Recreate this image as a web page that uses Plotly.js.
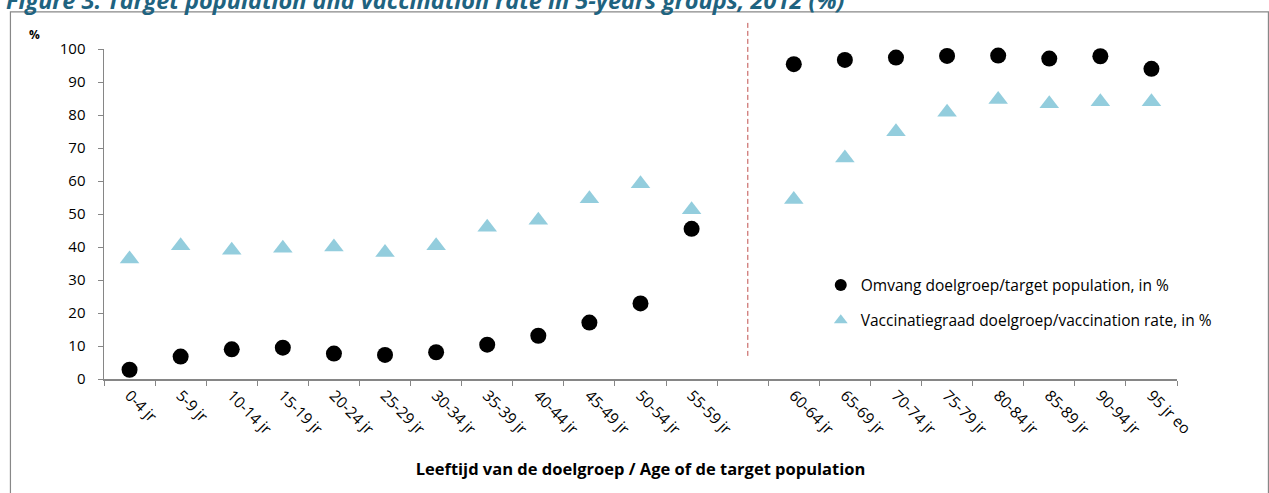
<!DOCTYPE html>
<html>
<head>
<meta charset="utf-8">
<script src="https://cdn.plot.ly/plotly-3.0.1.min.js"></script>
<style>
  html, body { margin: 0; padding: 0; background: #ffffff; }
  #chart { width: 1269px; height: 493px; }
</style>
</head>
<body>
<div id="chart"></div>
<script>
// ---- Data ----
const categories = ["0-4 jr", "5-9 jr", "10-14 jr", "15-19 jr", "20-24 jr", "25-29 jr",
  "30-34 jr", "35-39 jr", "40-44 jr", "45-49 jr", "50-54 jr", "55-59 jr", " ",
  "60-64 jr", "65-69 jr", "70-74 jr", "75-79 jr", "80-84 jr", "85-89 jr", "90-94 jr", "95 jr eo"];
const targetPopulation = [2.8, 6.8, 9.0, 9.5, 7.7, 7.3, 8.1, 10.4, 13.1, 17.1, 22.9, 45.5, null,
  95.4, 96.7, 97.4, 97.9, 98.0, 97.1, 97.8, 94.0];
const vaccinationRate = [36.4, 40.4, 39.0, 39.6, 40.0, 38.3, 40.4, 46.0, 48.1, 54.6, 59.2, 51.3, null,
  54.4, 67.0, 74.9, 80.8, 84.7, 83.4, 84.0, 84.0];
const seriesNames = ["Omvang doelgroep/target population, in %",
  "Vaccinatiegraad doelgroep/vaccination rate, in %"];
const yTickValues = [0, 10, 20, 30, 40, 50, 60, 70, 80, 90, 100];
const chartTitle = "Figure 3: Target population and vaccination rate in 5-years groups, 2012 (%)";
const xAxisTitle = "Leeftijd van de doelgroep / Age of de target population";
const yUnitLabel = "%";
const separatorCategoryIndex = 12.1;

const FONT = "Open Sans, Noto Sans, sans-serif";
const AXIS_GREY = "#868686";

const traces = [
  {
    type: "scatter", mode: "markers",
    x: categories, y: targetPopulation,
    name: seriesNames[0], legendgroup: "a",
    marker: { symbol: "circle", size: 16, color: "#000000", line: { width: 0 } },
    cliponaxis: false, hoverinfo: "x+y"
  },
  {
    type: "scatter", mode: "markers",
    x: categories, y: vaccinationRate,
    name: seriesNames[1], legendgroup: "b",
    marker: { symbol: "triangle-up", size: 17, color: "#93CDDD", line: { width: 0 } },
    cliponaxis: false, hoverinfo: "x+y"
  }
];

const layout = {
  width: 1269, height: 493,
  margin: { l: 104, r: 92, t: 49, b: 114, pad: 0 },
  paper_bgcolor: "#ffffff", plot_bgcolor: "#ffffff",
  font: { family: FONT, color: "#000000", size: 14 },
  showlegend: true,
  legend: {
    x: 0.668, xanchor: "left", y: 0.335, yanchor: "top",
    bgcolor: "rgba(0,0,0,0)", borderwidth: 0,
    font: { family: FONT, size: 15.5, color: "#000000" },
    itemsizing: "constant", traceorder: "grouped", tracegroupgap: 12
  },
  xaxis: {
    type: "category", categoryorder: "array", categoryarray: categories,
    range: [-0.5, categories.length - 0.5],
    showgrid: false, zeroline: false,
    showline: true, linecolor: AXIS_GREY, linewidth: 1.5,
    ticks: "outside", tickson: "boundaries", ticklen: 5, tickcolor: AXIS_GREY, tickwidth: 1,
    tickangle: 45,
    tickfont: { family: FONT, size: 15.5, color: "#000000" },
    title: { text: xAxisTitle, font: { family: FONT, size: 16.5, color: "#000000", weight: "bold" }, standoff: 25 },
    fixedrange: true
  },
  yaxis: {
    range: [0, 100], tickmode: "array", tickvals: yTickValues,
    showgrid: false, zeroline: false,
    showline: true, linecolor: AXIS_GREY, linewidth: 1.5,
    ticks: "outside", ticklen: 5, tickcolor: AXIS_GREY, tickwidth: 1,
    ticklabelstandoff: 9,
    tickfont: { family: FONT, size: 15, color: "#000000" },
    fixedrange: true
  },
  shapes: [
    { // outer chart border
      type: "rect", xref: "paper", yref: "paper",
      x0: -0.0872, x1: 1.0852, y0: -0.4, y1: 1.1125,
      line: { color: "#888888", width: 1.2 }, fillcolor: "rgba(0,0,0,0)", layer: "below"
    },
    { // red dashed separator between the age blocks
      type: "line", xref: "x", yref: "paper",
      x0: separatorCategoryIndex, x1: separatorCategoryIndex, y0: 0.07, y1: 1.08,
      line: { color: "#C0504D", width: 1, dash: "5px,3px" }
    }
  ],
  annotations: [
    {
      text: chartTitle, xref: "paper", yref: "paper",
      x: -0.0935, xanchor: "left", y: 1.094, yanchor: "bottom",
      showarrow: false,
      font: { family: FONT, size: 23.5, color: "#1F6380", weight: "bold", style: "italic" }
    },
    {
      text: yUnitLabel, xref: "paper", yref: "paper",
      x: -0.0652, xanchor: "center", y: 1.045, yanchor: "middle",
      showarrow: false,
      font: { family: FONT, size: 12, color: "#000000", weight: "bold" }
    }
  ]
};

Plotly.newPlot("chart", traces, layout, { displayModeBar: false, staticPlot: true });
</script>
</body>
</html>
